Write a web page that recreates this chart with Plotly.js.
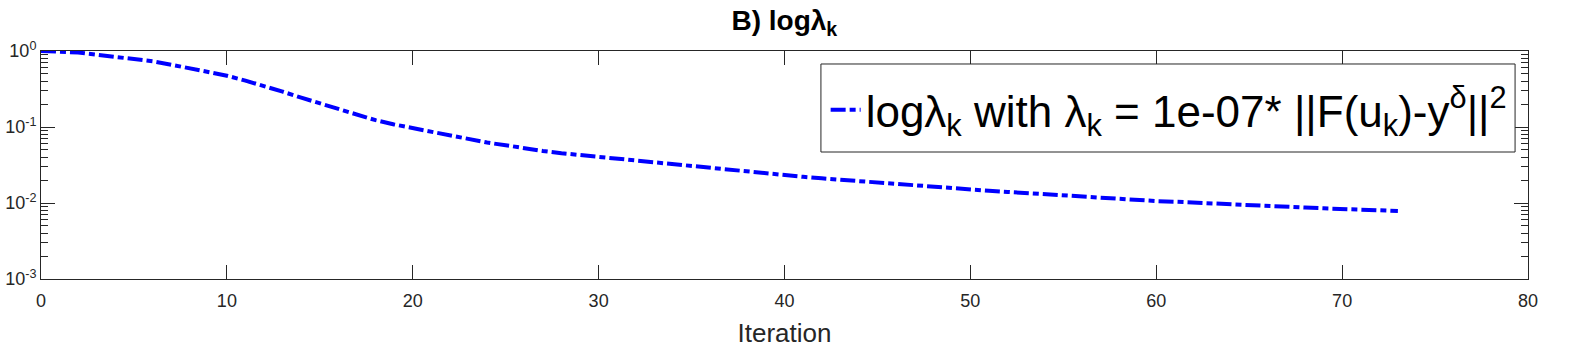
<!DOCTYPE html>
<html>
<head>
<meta charset="utf-8">
<script src="https://cdn.plot.ly/plotly-3.0.1.min.js"></script>
<style>
  html, body { margin: 0; padding: 0; background: #fff; }
  #chart { width: 1583px; height: 363px; }
</style>
</head>
<body>
<div id="chart"></div>
<script>
// iterations and lambda_k values
var iterations = [];
for (var i = 0; i <= 73; i++) iterations.push(i);

var lambdaK = [
  1.000, 0.991, 0.955, 0.893, 0.841, 0.794, 0.733, 0.661, 0.596, 0.531,
  0.473, 0.407, 0.347, 0.292, 0.243, 0.204, 0.170, 0.143, 0.123, 0.108,
  0.0966, 0.0861, 0.0759, 0.0684, 0.0624, 0.0575, 0.0525, 0.0484, 0.0452, 0.0427,
  0.0403, 0.0380, 0.0359, 0.0339, 0.0320, 0.0302, 0.0285, 0.0272, 0.0257, 0.0245,
  0.0232, 0.0221, 0.0211, 0.0202, 0.0193, 0.0184, 0.0176, 0.0168, 0.0162, 0.0155,
  0.0150, 0.0145, 0.0140, 0.0135, 0.0130, 0.0126, 0.0122, 0.0117, 0.0114, 0.0110,
  0.0106, 0.0104, 0.0101, 0.00984, 0.00959, 0.00935, 0.00912, 0.00891, 0.00871, 0.00851,
  0.00832, 0.00817, 0.00802, 0.00787
];

// tick labels
var xTicks = [0, 10, 20, 30, 40, 50, 60, 70, 80];
var yTickVals = [0.001, 0.01, 0.1, 1];
var yTickText = ['10<sup>-3</sup>', '10<sup>-2</sup>', '10<sup>-1</sup>', '10<sup>0</sup>'];

var font = 'Liberation Sans, Arial, Helvetica, sans-serif';
var axisColor = '#262626';

var trace1 = {
    x: iterations,
    y: lambdaK,
    type: 'scatter',
    mode: 'lines',
    name: 'log\u03bb<sub>k</sub> with \u03bb<sub>k</sub> = 1e-07* ||F(u<sub>k</sub>)-y<sup>\u03b4</sup>||<sup>2</sup>',
    line: {
        width: 4,
        color: 'rgb(0, 0, 255)',
        dash: '15px,4px,6px,4px'
    }
};

var layout = {
    width: 1583,
    height: 363,
    margin: {l: 41, r: 55, t: 51, b: 84},
    paper_bgcolor: '#fff',
    plot_bgcolor: '#fff',
    font: {family: font, color: axisColor},
    title: {
        text: '<b>B) log\u03bb<sub>k</sub></b>',
        font: {size: 28, color: '#000', family: font},
        x: 0.4955,
        xanchor: 'center',
        y: 0.945,
        yanchor: 'middle'
    },
    xaxis: {
        title: {text: 'Iteration', font: {size: 26, color: axisColor}, standoff: 14},
        range: [0, 80],
        tickvals: xTicks,
        ticks: 'inside',
        ticklen: 14,
        tickwidth: 1,
        tickcolor: axisColor,
        tickfont: {size: 18, color: axisColor},
        ticklabelstandoff: 5,
        showline: true,
        linecolor: axisColor,
        linewidth: 1,
        mirror: 'allticks',
        showgrid: false,
        zeroline: false,
        fixedrange: true
    },
    yaxis: {
        type: 'log',
        range: [-3, 0],
        tickvals: yTickVals,
        ticktext: yTickText,
        ticks: 'inside',
        ticklen: 14,
        tickwidth: 1,
        tickcolor: axisColor,
        tickfont: {size: 18, color: axisColor},
        minor: {ticks: 'inside', ticklen: 7, tickcolor: axisColor, dtick: 'D1', showgrid: false},
        showline: true,
        linecolor: axisColor,
        linewidth: 1,
        mirror: 'allticks',
        showgrid: false,
        zeroline: false,
        fixedrange: true
    },
    // legend frame, taller than plotly's own legend box
    shapes: [{
        type: 'rect',
        xref: 'paper', yref: 'paper',
        x0: 0.5245, x1: 0.9913, y0: 0.557, y1: 0.943,
        line: {color: axisColor, width: 1},
        fillcolor: '#fff',
        layer: 'above'
    }],
    showlegend: true,
    legend: {
        x: 0.989,
        xanchor: 'right',
        y: 0.741,
        yanchor: 'middle',
        bgcolor: 'rgba(255,255,255,0)',
        borderwidth: 0,
        font: {size: 44, color: '#000', family: font}
    }
};

var data = [trace1];
Plotly.newPlot('chart', data, layout, {displayModeBar: false, staticPlot: true});
</script>
</body>
</html>
